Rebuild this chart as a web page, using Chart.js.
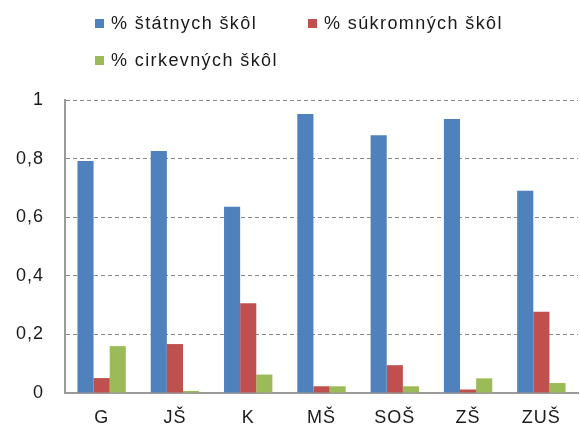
<!DOCTYPE html>
<html>
<head>
<meta charset="utf-8">
<script src="https://cdn.jsdelivr.net/npm/chart.js@4/dist/chart.umd.min.js"></script>
<style>
  html, body { margin: 0; padding: 0; background: #fff; }
  #wrap { position: relative; width: 580px; height: 436px; }
  #legend { position: absolute; left: 95px; top: 12px; width: 480px; font-family: "Liberation Sans", Arial, sans-serif; font-size: 18px; color: #1a1a1a; letter-spacing: 1.4px; }
  .item { position: absolute; white-space: nowrap; line-height: 22px; }
  .sw { display: inline-block; width: 9px; height: 9px; margin-right: 7px; vertical-align: 1px; }
</style>
</head>
<body>
<div id="wrap">
  <canvas id="chart" width="580" height="436"></canvas>
  <div id="legend"></div>
</div>
<script>
const categories = ['G', 'JŠ', 'K', 'MŠ', 'SOŠ', 'ZŠ', 'ZUŠ'];
const statne = [0.792, 0.826, 0.636, 0.952, 0.880, 0.935, 0.690];
const sukromne = [0.051, 0.167, 0.306, 0.023, 0.095, 0.012, 0.277];
const cirkevne = [0.160, 0.007, 0.063, 0.023, 0.023, 0.050, 0.034];
const seriesNames = ['% štátnych škôl', '% súkromných škôl', '% cirkevných škôl'];
const seriesColors = ['#4F81BD', '#C0504D', '#9BBB59'];
const yTicks = [0, 0.2, 0.4, 0.6, 0.8, 1];

const font = { family: '"Liberation Sans", Arial, sans-serif', size: 18 };

const datasets = [statne, sukromne, cirkevne].map((d, i) => ({
    label: seriesNames[i],
    data: d,
    backgroundColor: seriesColors[i],
    borderWidth: 0,
    categoryPercentage: 0.66,
    barPercentage: 1
}));

// wider glyph spacing like the original's text
const spacing = {
    id: 'spacing',
    beforeDraw: c => { c.ctx.letterSpacing = '1px'; }
};

new Chart(document.getElementById('chart'), {
    type: 'bar',
    data: { labels: categories, datasets: datasets },
    plugins: [spacing],
    options: {
        responsive: false,
        animation: false,
        layout: { padding: { top: 100, right: 2, left: 0, bottom: 0 } },
        plugins: { legend: { display: false }, tooltip: { enabled: false } },
        scales: {
            x: {
                grid: { display: false, drawTicks: false },
                border: { display: true, color: '#9a9a9a', width: 2 },
                ticks: { font: font, color: '#1a1a1a', padding: 14 },
                afterFit: s => { s.height = 43; }
            },
            y: {
                min: 0, max: 1,
                afterBuildTicks: s => { s.ticks = yTicks.map(v => ({ value: v })); },
                grid: {
                    drawTicks: false,
                    color: ctx => ctx.tick && ctx.tick.value === 0 ? 'rgba(0,0,0,0)' : '#888',
                    lineWidth: 1
                },
                border: { display: true, color: '#9a9a9a', width: 2, dash: [4, 3] },
                ticks: {
                    font: font, color: '#1a1a1a', padding: 21,
                    callback: v => String(v).replace('.', ',')
                },
                afterFit: s => { s.width = 65; }
            }
        }
    }
});

// legend in the two-row layout of the original
const legendPos = [[0, 0], [213, 0], [0, 37]];
const legend = document.getElementById('legend');
seriesNames.forEach((name, i) => {
    const el = document.createElement('div');
    el.className = 'item';
    el.style.left = legendPos[i][0] + 'px';
    el.style.top = legendPos[i][1] + 'px';
    el.innerHTML = `<span class="sw" style="background:${seriesColors[i]}"></span>${name}`;
    legend.appendChild(el);
});
</script>
</body>
</html>
